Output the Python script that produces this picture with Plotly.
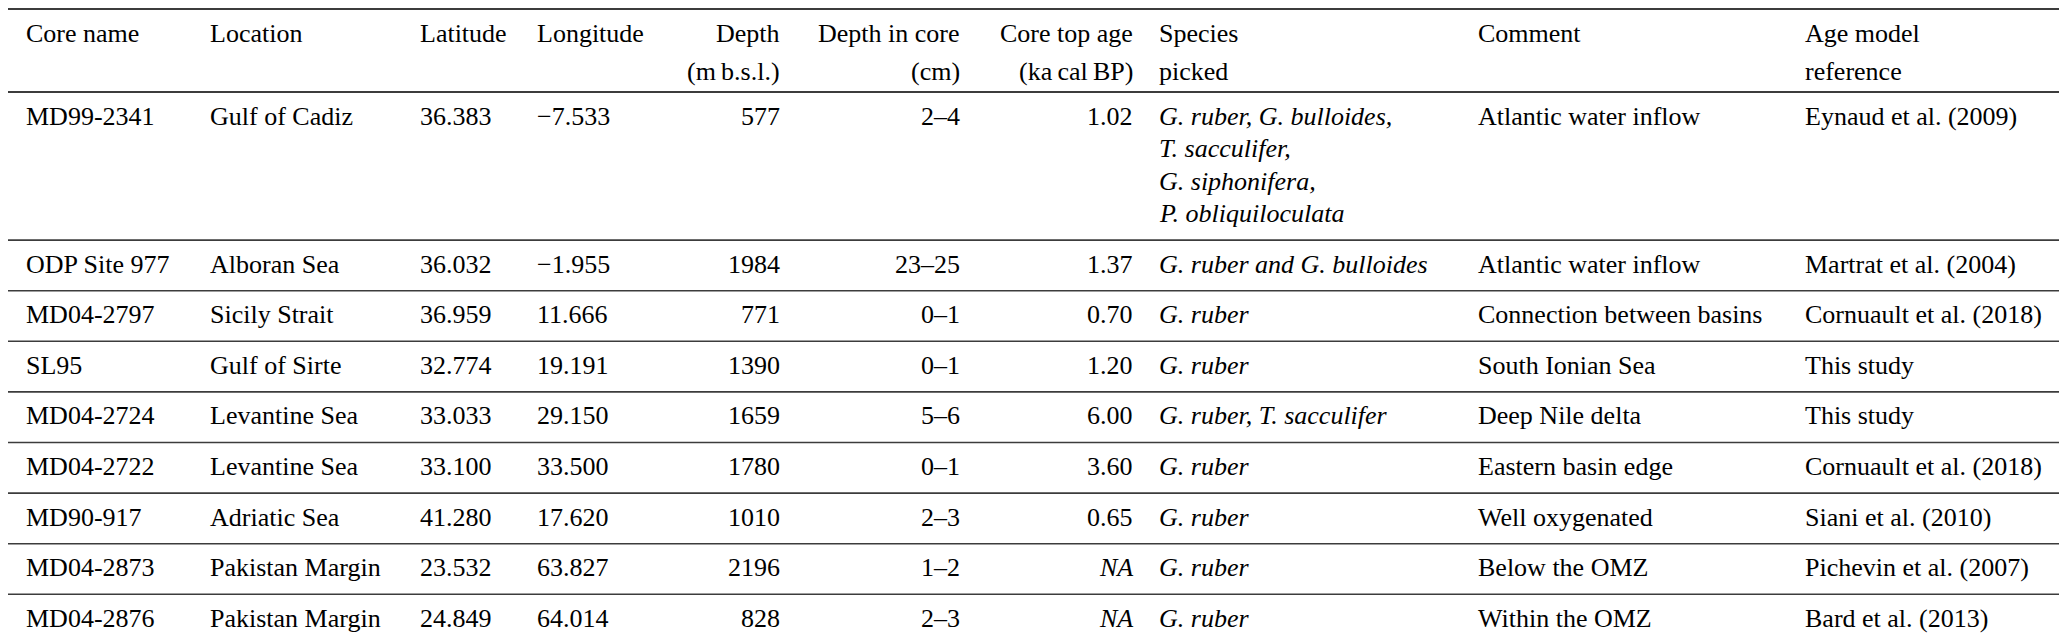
import plotly.graph_objects as go

# table content
headers = [
    ("Core name", ""),
    ("Location", ""),
    ("Latitude", ""),
    ("Longitude", ""),
    ("Depth", "(m\u2009b.s.l.)"),
    ("Depth in core", "(cm)"),
    ("Core top age", "(ka\u2009cal\u2009BP)"),
    ("Species", "picked"),
    ("Comment", ""),
    ("Age model", "reference"),
]

core_names = ["MD99-2341", "ODP Site 977", "MD04-2797", "SL95", "MD04-2724",
              "MD04-2722", "MD90-917", "MD04-2873", "MD04-2876"]
locations = ["Gulf of Cadiz", "Alboran Sea", "Sicily Strait", "Gulf of Sirte",
             "Levantine Sea", "Levantine Sea", "Adriatic Sea", "Pakistan Margin",
             "Pakistan Margin"]
latitudes = [36.383, 36.032, 36.959, 32.774, 33.033, 33.100, 41.280, 23.532, 24.849]
longitudes = [-7.533, -1.955, 11.666, 19.191, 29.150, 33.500, 17.620, 63.827, 64.014]
depths = [577, 1984, 771, 1390, 1659, 1780, 1010, 2196, 828]
depth_in_core = ["2\u20134", "23\u201325", "0\u20131", "0\u20131", "5\u20136",
                 "0\u20131", "2\u20133", "1\u20132", "2\u20133"]
core_top_age = [1.02, 1.37, 0.70, 1.20, 6.00, 3.60, 0.65, None, None]
species = [
    ["G. ruber, G. bulloides,", "T. sacculifer,", "G. siphonifera,",
     "P. obliquiloculata"],
    ["G. ruber and G. bulloides"],
    ["G. ruber"],
    ["G. ruber"],
    ["G. ruber, T. sacculifer"],
    ["G. ruber"],
    ["G. ruber"],
    ["G. ruber"],
    ["G. ruber"],
]
comments = ["Atlantic water inflow", "Atlantic water inflow",
            "Connection between basins", "South Ionian Sea", "Deep Nile delta",
            "Eastern basin edge", "Well oxygenated", "Below the OMZ",
            "Within the OMZ"]
age_refs = ["Eynaud et al. (2009)", "Martrat et al. (2004)",
            "Cornuault et al. (2018)", "This study", "This study",
            "Cornuault et al. (2018)", "Siani et al. (2010)",
            "Pichevin et al. (2007)", "Bard et al. (2013)"]

# layout
W, H = 2067, 637
COL_X = [17, 201, 411, 528, 773, 953, 1126, 1150, 1469, 1796]
COL_ALIGN = ["left", "left", "left", "left", "right", "right", "right",
             "left", "left", "left"]
SERIF = "Liberation Serif"
FONT = dict(family=SERIF, size=26, color="#000")
HEADER_BOTTOM = 84
LINE_H = 32.5
ROW_PAD = 18.1
FIRST_OFF = 24
LINE_COLOR = "#3c3c3c"


def fmt_num(v, nd):
    s = f"{abs(v):.{nd}f}"
    return ("\u2212" + s) if v < 0 else s


def cell(x, y, text, align):
    return dict(x=x, y=y, xref="x", yref="y", text=text, showarrow=False,
                xanchor=align, yanchor="middle", align=align, font=FONT,
                borderpad=0)


fig = go.Figure()
annotations = []

# header
for j, (l1, l2) in enumerate(headers):
    annotations.append(cell(COL_X[j], 25, l1, COL_ALIGN[j]))
    if l2:
        annotations.append(cell(COL_X[j], 63, l2, COL_ALIGN[j]))

# body rows
rules = [HEADER_BOTTOM]
top = HEADER_BOTTOM
for i in range(len(core_names)):
    n_lines = len(species[i])
    yc = top + FIRST_OFF
    age = core_top_age[i]
    row = [
        core_names[i],
        locations[i],
        fmt_num(latitudes[i], 3),
        fmt_num(longitudes[i], 3),
        str(depths[i]),
        depth_in_core[i],
        "<i>NA</i>" if age is None else f"{age:.2f}",
        None,
        comments[i],
        age_refs[i],
    ]
    for j, txt in enumerate(row):
        if txt is not None:
            annotations.append(cell(COL_X[j], yc, txt, COL_ALIGN[j]))
    for k, sp in enumerate(species[i]):
        annotations.append(cell(COL_X[7], yc + k * LINE_H, f"<i>{sp}</i>", "left"))
    top = top + n_lines * LINE_H + ROW_PAD
    rules.append(top)

shapes = [dict(type="line", xref="paper", yref="y", x0=0, x1=1, y0=1, y1=1,
               line=dict(color=LINE_COLOR, width=2))]
for k, y in enumerate(rules):
    yy = min(y, H - 1.5)
    shapes.append(dict(type="line", xref="paper", yref="y", x0=0, x1=1,
                       y0=yy, y1=yy,
                       line=dict(color=LINE_COLOR, width=2 if k == 0 else 1.6)))

fig.update_layout(
    width=W, height=H,
    margin=dict(l=0, r=0, t=0, b=0),
    font=dict(family=SERIF, size=26, color="#000"),
    paper_bgcolor="white", plot_bgcolor="white",
    xaxis=dict(range=[0, W], visible=False, fixedrange=True),
    yaxis=dict(range=[H, 0], visible=False, fixedrange=True),
    annotations=annotations,
    shapes=shapes,
    showlegend=False,
)

fig.write_html("out.html", config={"displayModeBar": False})
